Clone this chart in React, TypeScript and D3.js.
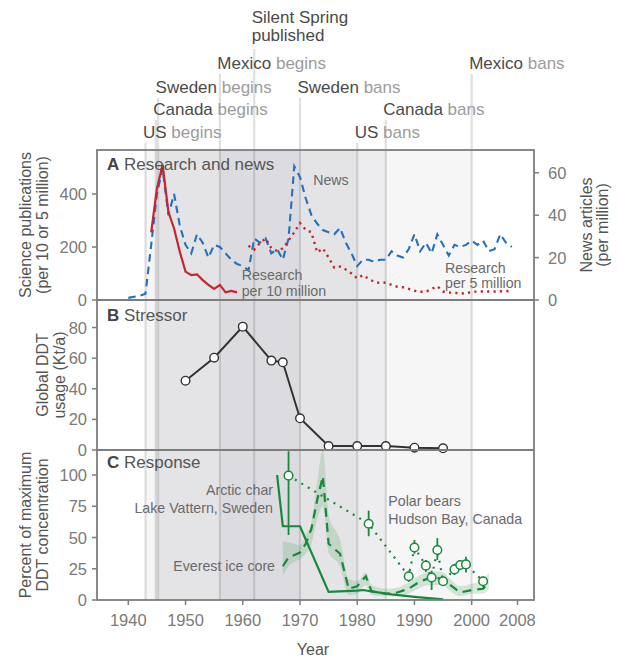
import React from "react";
import * as d3 from "d3";

// ---------------- Data ----------------
const newsStartYear = 1940;
const newsValues = [1, 1.5, 2, 3, 26, 50, 62, 40, 50, 35, 26, 22, 31, 27, 20, 26, 25, 22, 19, 17, 16, 14, 29, 27, 29, 22, 24, 19, 29, 63, 58, 48, 40, 36, 33, 32, 31, 34, 27, 22, 16, 19, 19, 18, 19, 19, 23, 21, 20, 24, 31, 23, 27, 22, 31, 26, 21, 26, 25, 26, 28, 26, 28, 23, 24, 31, 27, 25];

const research10StartYear = 1944;
const research10Values = [255, 421, 510, 333, 270, 182, 107, 94, 97, 75, 57, 42, 57, 29, 34, 29];

const research5StartYear = 1961;
const research5Values = [205, 190, 215, 232, 195, 185, 195, 225, 255, 290, 265, 255, 180, 195, 160, 122, 126, 115, 100, 82, 94, 80, 68, 64, 66, 57, 50, 48, 42, 35, 31, 31, 42, 52, 32, 28, 28, 24, 26, 30, 32, 32, 32, 32, 33, 33, 35];

const ddtYears = [1950, 1955, 1960, 1965, 1967, 1970, 1975, 1980, 1985, 1990, 1995];
const ddtUsage = [45.3, 60.3, 80.6, 58.4, 57.3, 20.7, 2.6, 2.6, 2.6, 1.5, 1.1];

const charYears = [1966, 1967, 1970, 1975, 1980, 1981, 1983, 1986, 1990, 1995];
const charValues = [100, 59, 59, 6.5, 7.5, 8, 6.5, 4.5, 2.5, 0.5];

const everestYears = [1967, 1968, 1970, 1971, 1972, 1973, 1974, 1975, 1977, 1978.5, 1980, 1981.5, 1982.5, 1985, 1987, 1989, 1991, 1993, 1995, 1996, 1998, 2000, 2002, 2003];
const everestValues = [27, 34, 38, 45, 57, 80, 99, 45, 37, 9, 11, 19, 7, 5, 6, 9, 15, 18, 17, 13, 6, 8, 9, 14];
const everestLow = [19, 27, 33, 37, 45, 65, 75, 38, 27, 4, 5, 12, 4, 3, 3, 5, 10, 12, 12, 8, 3, 5, 5, 9];
const everestHigh = [47, 46, 44, 52, 62, 95, 120, 68, 48, 17, 15, 22, 12, 9, 10, 14, 20, 23, 22, 18, 11, 13, 16, 22];

const polarYears = [1968, 1982, 1989, 1990, 1992, 1993, 1994, 1995, 1997, 1998, 1999, 2002];
const polarValues = [99.5, 61, 19, 42, 27.5, 18, 40, 15, 24.5, 28, 28.5, 15];
const polarLow = [52, 51, 14.5, 37, 22.5, 8, 32, 12, 20, 24, 22, 10];
const polarHigh = [119, 71.5, 23.5, 48, 32, 23.5, 49.5, 18, 29, 32, 34.7, 18.7];

const countryNames = ["US", "Canada", "Sweden", "Mexico"];
const beginYears = [1943, 1944.8, 1945.2, 1956];
const banYears = [1980, 1985, 1970, 2000];
const silentSpringYear = 1962;

const xTicks = [1940, 1950, 1960, 1970, 1980, 1990, 2000, 2008];
const ticksA = [0, 200, 400];
const ticksNews = [0, 20, 40, 60];
const ticksB = [0, 20, 40, 60, 80];
const ticksC = [0, 25, 50, 75, 100];

// ---------------- Layout ----------------
const W = 619, H = 658;
const L = 97, R = 534;
const TA = 150, TB = 300, TC = 450, BOT = 600;
const FONT = "'Liberation Sans', Arial, Helvetica, sans-serif";

const x = d3.scaleLinear().domain([1934.53, 2010.89]).range([L, R]);
const yA = d3.scaleLinear().domain([0, 566]).range([TB, TA]);
const yNews = d3.scaleLinear().domain([0, 70.75]).range([TB, TA]);
const yB = d3.scaleLinear().domain([0, 98]).range([TC, TB]);
const yC = d3.scaleLinear().domain([0, 120]).range([BOT, TC]);

const BLUE = "#2370bd";
const RED = "#c4262e";
const GREEN = "#16893d";

export default function App() {
  const newsPts = newsValues.map((v, i) => [newsStartYear + i, v] as [number, number]);
  const r10Pts = research10Values.map((v, i) => [research10StartYear + i, v] as [number, number]);
  const r5Pts = research5Values.map((v, i) => [research5StartYear + i, v] as [number, number]);

  const lineNews = d3.line<[number, number]>().x(d => x(d[0])).y(d => yNews(d[1]));
  const lineA = d3.line<[number, number]>().x(d => x(d[0])).y(d => yA(d[1]));
  const lineB = d3.line<number>().x((d, i) => x(ddtYears[i])).y(d => yB(d));
  const lineChar = d3.line<number>().x((d, i) => x(charYears[i])).y(d => yC(d));
  const lineEverest = d3.line<number>().x((d, i) => x(everestYears[i])).y(d => yC(d));
  const areaEverest = d3.area<number>()
    .x((d, i) => x(everestYears[i]))
    .y0((d, i) => yC(everestLow[i]))
    .y1((d, i) => yC(everestHigh[i]))
    .curve(d3.curveMonotoneX);
  const linePolar = d3.line<number>().x((d, i) => x(polarYears[i])).y(d => yC(d));

  const rowBase = [138, 115, 93, 69];
  const labelRows = [0, 1, 2, 3];

  const eventLines: { yr: number; top: number }[] = [];
  countryNames.forEach((c, i) => {
    eventLines.push({ yr: beginYears[i], top: rowBase[labelRows[i]] + 5 });
    eventLines.push({ yr: banYears[i], top: rowBase[labelRows[i]] + 5 });
  });
  eventLines.push({ yr: silentSpringYear, top: 49 });

  const tickFill = "#7a7a7a";
  const frame = "#7d7d7d";

  return (
    <div style={{ position: "absolute", left: 0, top: 0 }}>
      <svg width={W} height={H} style={{ display: "block", background: "#fff" }} fontFamily={FONT}>
        {/* bands */}
        {countryNames.map((c, i) => (
          <rect key={"band" + c} x={x(beginYears[i])} y={TA} width={x(banYears[i]) - x(beginYears[i])} height={BOT - TA}
            fill="#2a2a3a" fillOpacity={0.045} />
        ))}
        {/* event lines */}
        {eventLines.map((e, i) => (
          <line key={"ev" + i} x1={x(e.yr)} x2={x(e.yr)} y1={e.top} y2={BOT} stroke="#000" strokeOpacity={0.12} strokeWidth={2.2} />
        ))}

        {/* top labels */}
        <g fontSize={17}>
          {countryNames.map((c, i) => (
            <text key={"lb" + c} x={x(beginYears[i]) - 2.5} y={rowBase[labelRows[i]]}>
              <tspan fill="#4a4a4a">{c}</tspan>
              <tspan fill="#9c9c9c"> begins</tspan>
            </text>
          ))}
          {countryNames.map((c, i) => (
            <text key={"lban" + c} x={x(banYears[i]) - 2.5} y={rowBase[labelRows[i]]}>
              <tspan fill="#4a4a4a">{c}</tspan>
              <tspan fill="#9c9c9c"> bans</tspan>
            </text>
          ))}
          <text x={x(silentSpringYear) - 2.5} y={22.5} fill="#4a4a4a">Silent Spring</text>
          <text x={x(silentSpringYear) - 2.5} y={41} fill="#4a4a4a">published</text>
        </g>

        {/* Panel A data */}
        <path d={lineNews(newsPts) || ""} fill="none" stroke={BLUE} strokeWidth={2.1} strokeDasharray="7.5,5" />
        <path d={lineA(r10Pts) || ""} fill="none" stroke={RED} strokeWidth={2.2} />
        <path d={lineA(r5Pts) || ""} fill="none" stroke={RED} strokeWidth={2.4} strokeDasharray="2.2,4.2" />

        {/* Panel B data */}
        <path d={lineB(ddtUsage) || ""} fill="none" stroke="#333" strokeWidth={2} />
        {ddtUsage.map((v, i) => (
          <circle key={"b" + i} cx={x(ddtYears[i])} cy={yB(v)} r={4.3} fill="#fff" stroke="#333" strokeWidth={1.4} />
        ))}

        {/* Panel C data */}
        <path d={areaEverest(everestValues) || ""} fill="#3d9a4d" fillOpacity={0.2} />
        <path d={lineEverest(everestValues) || ""} fill="none" stroke={GREEN} strokeWidth={2.2} strokeDasharray="9,6" />
        <path d={lineChar(charValues) || ""} fill="none" stroke={GREEN} strokeWidth={2.2} />
        <path d={linePolar(polarValues) || ""} fill="none" stroke={GREEN} strokeWidth={2.2} strokeDasharray="2,5.5" />
        {polarValues.map((v, i) => (
          <line key={"pe" + i} x1={x(polarYears[i])} x2={x(polarYears[i])} y1={yC(polarLow[i])} y2={yC(polarHigh[i])} stroke={GREEN} strokeWidth={1.8} />
        ))}
        {polarValues.map((v, i) => (
          <circle key={"pc" + i} cx={x(polarYears[i])} cy={yC(v)} r={4.3} fill="#fff" stroke={GREEN} strokeWidth={1.5} />
        ))}

        {/* frames */}
        <rect x={L} y={TA} width={R - L} height={BOT - TA} fill="none" stroke={frame} strokeWidth={1.8} />
        <line x1={L} x2={R} y1={TB} y2={TB} stroke={frame} strokeWidth={1.8} />
        <line x1={L} x2={R} y1={TC} y2={TC} stroke={frame} strokeWidth={1.8} />

        {/* panel titles */}
        <g fontSize={17}>
          <text x={107} y={169.5} fill="#555"><tspan fontWeight="bold" fill="#444">A</tspan> Research and news</text>
          <text x={107} y={320.5} fill="#555"><tspan fontWeight="bold" fill="#444">B</tspan> Stressor</text>
          <text x={107} y={467.5} fill="#555"><tspan fontWeight="bold" fill="#444">C</tspan> Response</text>
        </g>

        {/* annotations */}
        <g fontSize={14.2} fill="#6a6a6a">
          <text x={x(1972.3)} y={184.5}>News</text>
          <text x={241.7} y={280}>Research</text>
          <text x={241.7} y={295.5}>per 10 million</text>
          <text x={445} y={272.5}>Research</text>
          <text x={445} y={288}>per 5 million</text>
          <text x={273} y={495} textAnchor="end">Arctic char</text>
          <text x={273} y={513} textAnchor="end">Lake Vattern, Sweden</text>
          <text x={275} y={571} textAnchor="end">Everest ice core</text>
          <text x={388.3} y={505.5}>Polar bears</text>
          <text x={388.3} y={523.5}>Hudson Bay, Canada</text>
        </g>

        {/* x axis */}
        {xTicks.map(t => (
          <g key={"xt" + t}>
            <line x1={x(t)} x2={x(t)} y1={BOT} y2={BOT + 5} stroke={frame} strokeWidth={1.5} />
            <text x={x(t)} y={626} textAnchor="middle" fontSize={16.5} fill={tickFill}>{t}</text>
          </g>
        ))}
        <text x={313} y={655} textAnchor="middle" fontSize={16} fill="#555">Year</text>

        {/* left axes */}
        {ticksA.map(t => (
          <g key={"ya" + t}>
            <line x1={L - 5} x2={L} y1={yA(t)} y2={yA(t)} stroke={frame} strokeWidth={1.5} />
            <text x={L - 10} y={yA(t) + 6} textAnchor="end" fontSize={16.5} fill={tickFill}>{t}</text>
          </g>
        ))}
        {ticksB.map(t => (
          <g key={"yb" + t}>
            <line x1={L - 5} x2={L} y1={yB(t)} y2={yB(t)} stroke={frame} strokeWidth={1.5} />
            <text x={L - 10} y={yB(t) + 6} textAnchor="end" fontSize={16.5} fill={tickFill}>{t}</text>
          </g>
        ))}
        {ticksC.map(t => (
          <g key={"yc" + t}>
            <line x1={L - 5} x2={L} y1={yC(t)} y2={yC(t)} stroke={frame} strokeWidth={1.5} />
            <text x={L - 10} y={yC(t) + 6} textAnchor="end" fontSize={16.5} fill={tickFill}>{t}</text>
          </g>
        ))}
        {/* right axis */}
        {ticksNews.map(t => (
          <g key={"yn" + t}>
            <line x1={R} x2={R + 5} y1={yNews(t)} y2={yNews(t)} stroke={frame} strokeWidth={1.5} />
            <text x={R + 14} y={yNews(t) + 6} textAnchor="start" fontSize={16.5} fill={tickFill}>{t}</text>
          </g>
        ))}

        {/* axis titles */}
        <g fontSize={16} fill="#555" textAnchor="middle">
          <text transform={`translate(31,${(TA + TB) / 2}) rotate(-90)`}>Science publications</text>
          <text transform={`translate(48,${(TA + TB) / 2}) rotate(-90)`}>(per 10 or 5 million)</text>
          <text transform={`translate(48,${(TB + TC) / 2}) rotate(-90)`}>Global DDT</text>
          <text transform={`translate(65,${(TB + TC) / 2}) rotate(-90)`}>usage (Kt/a)</text>
          <text transform={`translate(31,${(TC + BOT) / 2}) rotate(-90)`}>Percent of maximum</text>
          <text transform={`translate(48,${(TC + BOT) / 2}) rotate(-90)`}>DDT concentration</text>
          <text transform={`translate(592,${(TA + TB) / 2}) rotate(-90)`}>News articles</text>
          <text transform={`translate(608,${(TA + TB) / 2}) rotate(-90)`}>(per million)</text>
        </g>
      </svg>
    </div>
  );
}
